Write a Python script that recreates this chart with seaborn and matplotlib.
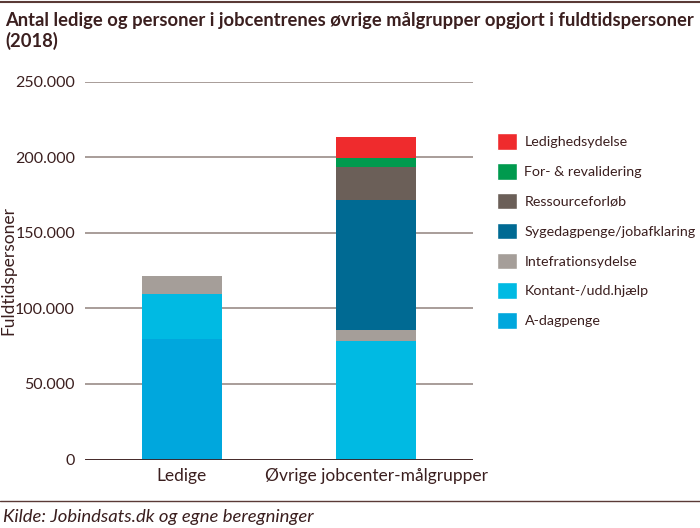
import numpy as np
import pandas as pd
import matplotlib
matplotlib.use("Agg")
import matplotlib.pyplot as plt
import seaborn as sns
from matplotlib.patches import Patch
from matplotlib.ticker import FuncFormatter

# Data (fuldtidspersoner, 2018)
categories = ["Ledige", "Øvrige jobcenter-målgrupper"]
groups = ["A-dagpenge", "Kontant-/udd.hjælp", "Intefrationsydelse",
          "Sygedagpenge/jobafklaring", "Ressourceforløb",
          "For- & revalidering", "Ledighedsydelse"]
a_dagpenge = [80000, 0]
kontant = [29500, 78500]
integration = [12000, 7000]
sygedagpenge = [0, 86000]
ressource = [0, 22000]
revalidering = [0, 6000]
ledighedsydelse = [0, 14000]

colors = ["#00a7dd", "#00bae3", "#a59e99", "#006a93",
          "#6b5f58", "#009a4e", "#ef2b2d"]

values = np.array([a_dagpenge, kontant, integration, sygedagpenge,
                   ressource, revalidering, ledighedsydelse])
tops = values.cumsum(axis=0)

text_col = "#3b1f1f"
sns.set_style("white")
plt.rcParams["font.family"] = ["Lato", "DejaVu Sans"]
plt.rcParams["text.color"] = text_col

fig = plt.figure(figsize=(7, 5.28), dpi=100)
ax = fig.add_axes([0.121, 0.1297, 0.555, 0.7153])

# draw stacked bars from the tallest layer down
for i in range(len(groups) - 1, -1, -1):
    df = pd.DataFrame({"kategori": categories, "top": tops[i]})
    sns.barplot(data=df, x="kategori", y="top", color=colors[i],
                width=0.41, linewidth=0, saturation=1, ax=ax, zorder=3)

ax.set_xlim(-0.5, 1.5)
ax.set_ylim(0, 250000)
ax.set_yticks(np.arange(0, 250001, 50000))
ax.yaxis.set_major_formatter(FuncFormatter(lambda v, p: f"{int(v):,}".replace(",", ".")))
ax.grid(axis="y", color="#9a8c88", linewidth=1.2, zorder=0)
ax.axhline(0, color="#3d2020", linewidth=2, zorder=4)
for s in ax.spines.values():
    s.set_visible(False)
ax.tick_params(axis="y", length=0, labelsize=11.5, colors=text_col, pad=7)
ax.tick_params(axis="x", length=0, labelsize=12.5, colors=text_col, pad=6)
ax.set_xlabel("")
ax.set_ylabel("Fuldtidspersoner", fontsize=12.5, color=text_col)
ax.yaxis.set_label_coords(-0.176, 0.5)

handles = [Patch(facecolor=colors[i], label=groups[i]) for i in range(len(groups) - 1, -1, -1)]
fig.legend(handles=handles, loc="upper left", bbox_to_anchor=(0.692, 0.772),
           frameon=False, fontsize=10.3, handlelength=1.4, handleheight=1.4,
           labelspacing=0.93, handletextpad=0.5, labelcolor=text_col)

fig.text(0.007, 0.978, "Antal ledige og personer i jobcentrenes øvrige målgrupper opgjort i fuldtidspersoner\n(2018)",
         fontsize=13.2, fontweight="bold", va="top", ha="left", color=text_col, linespacing=1.2)
fig.text(0.004, 0.006, "Kilde: Jobindsats.dk og egne beregninger", fontsize=13.3,
         style="italic", va="bottom", ha="left", color=text_col)

fig.add_artist(plt.Line2D([0, 1], [0.997, 0.997], color="#5a3a36", linewidth=1.5))
fig.add_artist(plt.Line2D([0, 1], [0.052, 0.052], color="#5a3a36", linewidth=1))

fig.savefig("out.png", dpi=100)
